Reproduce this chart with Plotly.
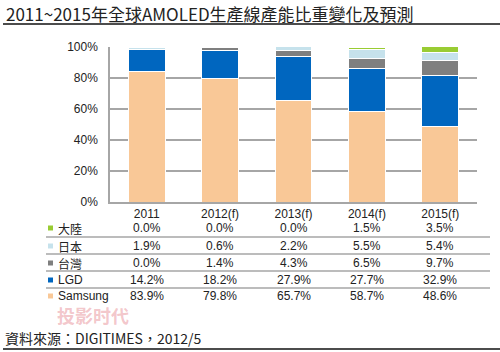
import plotly.graph_objects as go

categories = ["2011", "2012(f)", "2013(f)", "2014(f)", "2015(f)"]
series_names = ["Samsung", "LGD", "台灣", "日本", "大陸"]
samsung = [83.9, 79.8, 65.7, 58.7, 48.6]
lgd = [14.2, 18.2, 27.9, 27.7, 32.9]
taiwan = [0.0, 1.4, 4.3, 6.5, 9.7]
japan = [1.9, 0.6, 2.2, 5.5, 5.4]
mainland = [0.0, 0.0, 0.0, 1.5, 3.5]
colors = ["#F9C897", "#0066BF", "#7F7F7F", "#C6E2EC", "#99CC33"]
values = [samsung, lgd, taiwan, japan, mainland]

W, H = 500, 352
L, R, T, B = 110, 23, 47, 150
PW, PH = W - L - R, H - T - B

def px(x):
    return (x - L) / PW

def py(y):
    return (H - B - y) / PH

fig = go.Figure()
for name, vals, col in zip(series_names, values, colors):
    fig.add_trace(go.Bar(x=categories, y=vals, name=name, marker_color=col,
                         marker_line_color="white", marker_line_width=1,
                         width=0.5, showlegend=False, hoverinfo="skip"))

font_main = "Liberation Sans, Arial, sans-serif"
cjk = "Noto Sans CJK TC, sans-serif"
anns = []
shapes = []

# table rows (top to bottom: 大陸, 日本, 台灣, LGD, Samsung)
row_y = [228, 246, 263, 280, 296]
order = [4, 3, 2, 1, 0]
for ry, idx in zip(row_y, order):
    anns.append(dict(xref="paper", yref="paper", x=px(56), y=py(ry), text=series_names[idx],
                     showarrow=False, xanchor="left", yanchor="middle",
                     font=dict(family=cjk if idx in (2, 3, 4) else font_main, size=12, color="#222")))
    shapes.append(dict(type="rect", xref="paper", yref="paper", x0=px(48), x1=px(53),
                       y0=py(ry + 2.5), y1=py(ry - 2.5), fillcolor=colors[idx], line_width=0))
    for ci, v in enumerate(values[idx]):
        anns.append(dict(xref="x", yref="paper", x=ci, y=py(ry), text=f"{v:.1f}%",
                         showarrow=False, xanchor="center", yanchor="middle",
                         font=dict(family=font_main, size=12, color="#222")))

for ly in [237, 254, 271, 288]:
    shapes.append(dict(type="line", xref="paper", yref="paper", x0=px(46), x1=px(490),
                       y0=py(ly), y1=py(ly), line=dict(color="#A6A6A6", width=1.5)))

# title and lines
anns.append(dict(xref="paper", yref="paper", x=px(4), y=py(13), text="2011~2015年全球AMOLED生產線產能比重變化及預測",
                 showarrow=False, xanchor="left", yanchor="middle",
                 font=dict(family=cjk, size=17, color="#222")))
shapes.append(dict(type="line", xref="paper", yref="paper", x0=px(3), x1=px(500),
                   y0=py(24), y1=py(24), line=dict(color="#111", width=1.5)))
# watermark
anns.append(dict(xref="paper", yref="paper", x=px(56), y=py(315), text="<b>投影时代</b>",
                 showarrow=False, xanchor="left", yanchor="middle", borderpad=0,
                 font=dict(family=cjk, size=18, color="rgba(225,110,120,0.4)")))
anns.append(dict(xref="paper", yref="paper", x=px(4), y=py(338), text="資料來源：DIGITIMES，2012/5",
                 showarrow=False, xanchor="left", yanchor="middle", borderpad=0,
                 font=dict(family=cjk, size=14, color="#222")))
shapes.append(dict(type="line", xref="paper", yref="paper", x0=px(3), x1=px(500),
                   y0=py(349), y1=py(349), line=dict(color="#111", width=1.5)))

fig.update_layout(
    width=W, height=H, barmode="stack",
    margin=dict(l=L, r=R, t=T, b=B, pad=0),
    plot_bgcolor="white", paper_bgcolor="white",
    annotations=anns, shapes=shapes,
    xaxis=dict(type="category", range=[-0.5, 4.5], showgrid=False, showline=True,
               linecolor="#A6A6A6", linewidth=1.5,
               ticks="", tickfont=dict(family=font_main, size=12, color="#222"),
               fixedrange=True),
    yaxis=dict(range=[0, 100], dtick=20, ticksuffix="%", showgrid=True,
               gridcolor="#A6A6A6", gridwidth=1.5, showline=True, linecolor="#A6A6A6",
               linewidth=1.5, zeroline=False, ticks="", ticklabelstandoff=8,
               tickfont=dict(family=font_main, size=12, color="#222")),
)
fig.write_html("out.html")
